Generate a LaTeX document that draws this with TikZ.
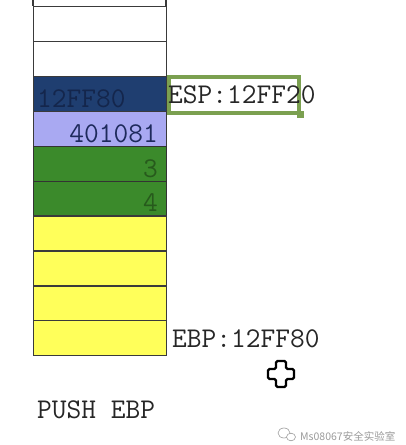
\documentclass[tikz,border=0pt]{standalone}
\usepackage{fontspec}
\newfontfamily\cjk{Noto Sans CJK SC}
\definecolor{cellline}{HTML}{3A3A3A}
\definecolor{espblue}{HTML}{1F3E70}
\definecolor{espblueText}{HTML}{14264C}
\definecolor{lilac}{HTML}{A9A9F2}
\definecolor{lilacText}{HTML}{1E2A5C}
\definecolor{grn}{HTML}{3B8A2B}
\definecolor{grnText}{HTML}{275A1C}
\definecolor{yel}{HTML}{FFFF5A}
\definecolor{boxgreen}{HTML}{7BA050}
\definecolor{wm}{HTML}{9A9A9A}
\begin{document}
\begin{tikzpicture}[x=1pt,y=-1pt,
  cell/.style={draw=cellline, line width=1.3pt, minimum width=133pt, minimum height=34.9pt, inner sep=0pt, anchor=north west},
  mono/.style={font=\ttfamily\fontsize{28.6}{30}\selectfont\addfontfeatures{FakeBold=0.7}, inner sep=0pt},
  lbl/.style={mono, text=black!85}
]
\useasboundingbox[fill=white] (0,0) rectangle (406,445);
% top partial row
\draw[cellline, line width=1.3pt] (33,0) -- (33,6) (166,0) -- (166,6);
% cells
\node[cell] (c0) at (33,6.0) {};
\node[cell] (c1) at (33,40.9) {};
\node[cell, fill=espblue] (c2) at (33,75.8) {};
\node[cell, fill=lilac] (c3) at (33,110.7) {};
\node[cell, fill=grn, draw=black!80] (c4) at (33,145.6) {};
\node[cell, fill=grn, draw=black!80] (c5) at (33,180.5) {};
\node[cell, fill=yel] (c6) at (33,215.4) {};
\node[cell, fill=yel] (c7) at (33,250.3) {};
\node[cell, fill=yel] (c8) at (33,285.2) {};
\node[cell, fill=yel] (c9) at (33,320.1) {};
% cell texts
\node[mono, text=espblueText, anchor=base west] (t2) at (37,107) {12FF80};
\node[mono, text=lilacText, anchor=base east] (t3) at (158,142) {401081};
\node[mono, text=grnText, anchor=base east] (t4) at (158,177) {3};
\node[mono, text=grnText, anchor=base east] (t5) at (158,211) {4};
% ESP box and label
\node[draw=boxgreen, line width=3.5pt, minimum width=130pt, minimum height=36pt, inner sep=0pt, anchor=north west] (espbox) at (167,75) {};
\node[fill=boxgreen, minimum size=7pt, inner sep=0pt] (handle) at (espbox.south east) {};
\node[lbl, anchor=base west] (esp) at (168,103) {ESP:12FF20};
% EBP label
\node[lbl, anchor=base west] (ebp) at (172,347) {EBP:12FF80};
% instruction
\node[lbl, anchor=base west] (instr) at (37,418) {PUSH EBP};
% cursor
\draw[fill=white, draw=black, line width=2.2pt, rounded corners=1.5pt]
  (276,361) -- (286,361) -- (286,369) -- (294,369) -- (294,379) -- (286,379)
  -- (286,387) -- (276,387) -- (276,379) -- (268,379) -- (268,369) -- (276,369) -- cycle;
% watermark
\draw[wm, line width=0.6pt] (284,433) ellipse (6pt and 5pt);
\draw[wm, line width=0.6pt, fill=white] (291,437) ellipse (4.5pt and 3.8pt);
\node[text=wm, font=\cjk\fontsize{10.5}{12}\selectfont, anchor=base west, inner sep=0pt] (wmtext) at (300,440) {Ms08067安全实验室};
\end{tikzpicture}
\end{document}
